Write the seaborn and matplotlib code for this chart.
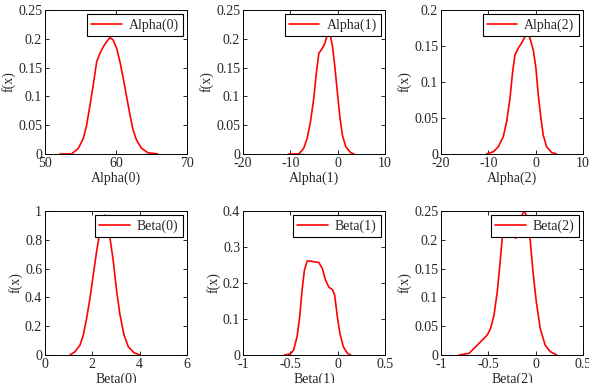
import matplotlib
matplotlib.use("Agg")
import matplotlib.pyplot as plt
import seaborn as sns
import pandas as pd

# density curves (x grid, f(x))
alpha0_x = [52.1, 53.76, 54.7, 55.4, 55.87, 56.34, 56.8, 57.28, 57.75, 58.2, 58.69, 59.15, 59.6,
            60.1, 60.56, 61.03, 61.5, 61.97, 62.4, 62.9, 63.6, 64.5, 65.9]
alpha0_y = [0.0, 0.0, 0.0099, 0.027, 0.05, 0.085, 0.12, 0.16, 0.175, 0.186, 0.195, 0.202, 0.198,
            0.183, 0.16, 0.131, 0.0995, 0.068, 0.042, 0.024, 0.0099, 0.002, 0.0]

alpha1_x = [-10.36, -8.2, -7.17, -6.45, -5.74, -5.04, -4.47, -3.97, -3.26, -2.7, -2.2, -1.7,
            -1.13, -0.64, -0.07, 0.5, 1.0, 1.7, 2.77, 3.47]
alpha1_y = [0.0, 0.0, 0.0099, 0.027, 0.056, 0.097, 0.143, 0.175, 0.183, 0.192, 0.207, 0.212,
            0.189, 0.155, 0.108, 0.062, 0.033, 0.0127, 0.002, 0.0]

alpha2_x = [-10.35, -8.95, -7.89, -6.83, -6.12, -5.42, -4.86, -4.37, -3.66, -2.96, -2.25, -1.76,
            -1.2, -0.49, 0.07, 0.56, 1.13, 1.61, 2.33, 3.39, 4.44]
alpha2_y = [0.0, 0.003, 0.01, 0.024, 0.045, 0.077, 0.114, 0.1375, 0.147, 0.154, 0.163, 0.168,
            0.161, 0.144, 0.119, 0.082, 0.0496, 0.026, 0.01, 0.002, 0.0]

beta0_x = [1.056, 1.27, 1.48, 1.62, 1.76, 1.9, 2.04, 2.18, 2.32, 2.44, 2.53, 2.63, 2.75, 2.89,
           3.03, 3.17, 3.34, 3.52, 3.76, 4.01]
beta0_y = [0.0, 0.023, 0.069, 0.139, 0.255, 0.394, 0.556, 0.717, 0.856, 0.9375, 0.972, 0.949, 0.81, 0.648,
           0.44, 0.278, 0.139, 0.058, 0.016, 0.0]

beta1_x = [-0.56, -0.5, -0.465, -0.429, -0.401, -0.376, -0.351, -0.322, -0.287, -0.252, -0.199, -0.163,
           -0.128, -0.092, -0.056, -0.032, -0.003, 0.024, 0.06, 0.103, 0.138]
beta1_y = [0.0, 0.003, 0.014, 0.051, 0.106, 0.18, 0.236, 0.261, 0.261, 0.259, 0.257, 0.241,
           0.208, 0.188, 0.182, 0.167, 0.106, 0.06, 0.023, 0.005, 0.0]

beta2_x = [-0.808, -0.703, -0.633, -0.563, -0.51, -0.476, -0.44, -0.405, -0.378, -0.353, -0.329, -0.3,
           -0.266, -0.231, -0.213, -0.178, -0.143, -0.119, -0.084, -0.056, -0.028, 0.007, 0.049,
           0.101, 0.154, 0.224]
beta2_y = [0.0, 0.003, 0.0145, 0.026, 0.035, 0.046, 0.069, 0.11, 0.156, 0.2026, 0.224, 0.232,
           0.222, 0.208, 0.2026, 0.22, 0.243, 0.25, 0.237, 0.197, 0.145, 0.0926, 0.046,
           0.017, 0.006, 0.0]

names = ["Alpha(0)", "Alpha(1)", "Alpha(2)", "Beta(0)", "Beta(1)", "Beta(2)"]
curves = [(alpha0_x, alpha0_y), (alpha1_x, alpha1_y), (alpha2_x, alpha2_y),
          (beta0_x, beta0_y), (beta1_x, beta1_y), (beta2_x, beta2_y)]

xticks = [[50, 60, 70], [-20, -10, 0, 10], [-20, -10, 0, 10], [0, 2, 4, 6], [-1, -0.5, 0, 0.5], [-1, -0.5, 0, 0.5]]
xticklabels = [["50", "60", "70"], ["-20", "-10", "0", "10"], ["-20", "-10", "0", "10"],
               ["0", "2", "4", "6"], ["-1", "-0.5", "0", "0.5"], ["-1", "-0.5", "0", "0.5"]]
yticks = [[0, 0.05, 0.1, 0.15, 0.2, 0.25], [0, 0.05, 0.1, 0.15, 0.2, 0.25], [0, 0.05, 0.1, 0.15, 0.2],
          [0, 0.2, 0.4, 0.6, 0.8, 1], [0, 0.1, 0.2, 0.3, 0.4], [0, 0.05, 0.1, 0.15, 0.2, 0.25]]
yticklabels = [["0", "0.05", "0.1", "0.15", "0.2", "0.25"], ["0", "0.05", "0.1", "0.15", "0.2", "0.25"],
               ["0", "0.05", "0.1", "0.15", "0.2"], ["0", "0.2", "0.4", "0.6", "0.8", "1"],
               ["0", "0.1", "0.2", "0.3", "0.4"], ["0", "0.05", "0.1", "0.15", "0.2", "0.25"]]

sns.set_style("ticks")
plt.rcParams["font.family"] = ["Liberation Serif", "DejaVu Serif"]
plt.rcParams["font.size"] = 10
plt.rcParams["xtick.direction"] = "in"
plt.rcParams["ytick.direction"] = "in"
plt.rcParams["xtick.top"] = True
plt.rcParams["ytick.right"] = True

fig = plt.figure(figsize=(5.89, 3.83), dpi=100)
lefts = [0.0764, 0.4126, 0.7487]
bottoms = [0.598, 0.0731]

for i, (name, (xs, ys)) in enumerate(zip(names, curves)):
    ax = fig.add_axes([lefts[i % 3], bottoms[i // 3], 0.241, 0.376])
    df = pd.DataFrame({"x": xs, "f": ys})
    sns.lineplot(data=df, x="x", y="f", ax=ax, color="red", linewidth=1.2, label=name,
                 solid_joinstyle="round")
    ax.set_xlim(xticks[i][0], xticks[i][-1])
    ax.set_ylim(yticks[i][0], yticks[i][-1])
    ax.set_xticks(xticks[i])
    ax.set_xticklabels(xticklabels[i])
    ax.set_yticks(yticks[i])
    ax.set_yticklabels(yticklabels[i])
    ax.tick_params(length=3, width=0.6, color="black", labelsize=10, pad=2)
    for s in ax.spines.values():
        s.set_linewidth(0.7)
        s.set_color("black")
    ax.set_xlabel(name, labelpad=1)
    ax.set_ylabel("f(x)", labelpad=2)
    leg = ax.legend(loc="upper right", fancybox=False, framealpha=1, edgecolor="black",
                    borderaxespad=0.3, handlelength=2.2, borderpad=0.3, handletextpad=0.5)
    leg.get_frame().set_linewidth(0.8)

fig.savefig("out.png", dpi=100)
